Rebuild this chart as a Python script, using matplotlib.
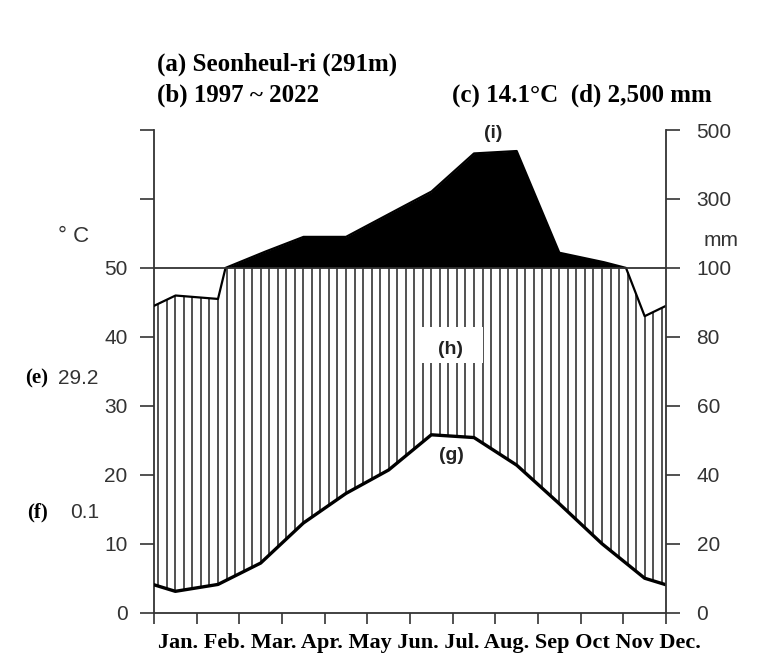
import matplotlib.pyplot as plt
import numpy as np
from matplotlib.patches import Rectangle

# monthly means
months = ["Jan.", "Feb.", "Mar.", "Apr.", "May", "Jun.", "Jul.", "Aug.", "Sep", "Oct", "Nov", "Dec."]
temp = [3.1, 4.1, 7.2, 13.0, 17.3, 20.7, 25.8, 25.4, 21.4, 15.8, 10.0, 5.0]   # deg C
prec = [92, 91, 142, 190, 190, 256, 321, 432, 439, 144, 118, 86]              # mm

left_ticks = [0, 10, 20, 30, 40, 50, 60, 70]
left_labels = ["0", "10", "20", "30", "40", "50", "", ""]
right_labels = ["0", "20", "40", "60", "80", "100", "300", "500"]

W, H = 764, 666
def fx(px):
    return px / W
def fy(py):
    return 1 - py / H

def squeeze(p):
    # walter-lieth scale: mm/2 up to 100 mm, then 1/20
    p = np.asarray(p, dtype=float)
    return np.where(p > 100, 50 + (p - 100) / 20.0, p / 2.0)

plt.rcParams['font.family'] = ['Liberation Sans', 'DejaVu Sans']
fig = plt.figure(figsize=(W / 100, H / 100), dpi=100)
ax = fig.add_axes([fx(154), fy(612.7), fx(666) - fx(154), fy(130) - fy(612.7)])

xm = np.arange(-0.5, 13)           # month midpoints, extended one each side
t_ext = np.array([temp[-1]] + temp + [temp[0]])
p_ext = np.array([prec[-1]] + prec + [prec[0]], dtype=float)

xd = np.linspace(0, 12, 2401)
pd_ = squeeze(np.interp(xd, xm, p_ext))

ax.fill_between(xd, 50, pd_, where=pd_ > 50, color='black', lw=0, zorder=2)
ax.plot(xd, pd_, color='black', lw=1.6, zorder=3)

# hatching between the curves
xi = 0.1 + 0.2 * np.arange(60)
ti = np.interp(xi, xm, t_ext)
pi = np.minimum(squeeze(np.interp(xi, xm, p_ext)), 50)
ok = pi > ti
ax.vlines(xi[ok], ti[ok], pi[ok], color='#333333', lw=1.2, zorder=1)

ax.plot(xm, t_ext, color='black', lw=2.4, zorder=4)
ax.axhline(50, color='#333333', lw=1.3, zorder=3)

ax.set_xlim(0, 12)
ax.set_ylim(0, 70)
ax.set_xticks(np.arange(13))
ax.set_xticklabels([])
ax.set_yticks(left_ticks)
ax.set_yticklabels(left_labels)
ax.tick_params(axis='x', direction='out', length=8, width=1.2, color='#333333')
ax.tick_params(axis='y', direction='out', length=10, width=1.2, color='#333333',
               labelsize=15, labelcolor='#333333', pad=9)
for s in ['top', 'right']:
    ax.spines[s].set_visible(False)
for s in ['left', 'bottom']:
    ax.spines[s].set_color('#333333')
    ax.spines[s].set_linewidth(1.3)

ax2 = ax.twinx()
ax2.set_ylim(0, 70)
ax2.set_yticks(left_ticks)
ax2.set_yticklabels(right_labels)
ax2.tick_params(axis='y', direction='out', length=10, width=1.2, color='#333333',
                labelsize=15, labelcolor='#333333', pad=12)
for s in ['top', 'left', 'bottom']:
    ax2.spines[s].set_visible(False)
ax2.spines['right'].set_color('#333333')
ax2.spines['right'].set_linewidth(1.3)

# white patch behind (h)
ax.add_patch(Rectangle((fx(420), fy(363)), fx(483) - fx(420), fy(327) - fy(363),
                       transform=fig.transFigure, facecolor='white', edgecolor='none', zorder=5))

serif = ['Liberation Serif', 'DejaVu Serif']
fig.text(fx(157), fy(64), "(a) Seonheul-ri (291m)", family=serif, weight='bold', fontsize=18, va='center')
fig.text(fx(157), fy(95), "(b) 1997 ~ 2022", family=serif, weight='bold', fontsize=18, va='center')
fig.text(fx(712), fy(95), "(c) 14.1°C  (d) 2,500 mm", family=serif, weight='bold', fontsize=18,
         va='center', ha='right')

fig.text(fx(25), fy(378), "(e)", family=serif, weight='bold', fontsize=15, va='center')
fig.text(fx(58), fy(378), "29.2", fontsize=15, color='#333333', va='center')
fig.text(fx(27), fy(512), "(f)", family=serif, weight='bold', fontsize=15, va='center')
fig.text(fx(70), fy(512), "0.1", fontsize=15, color='#333333', va='center')

fig.text(fx(74), fy(237), "° C", fontsize=16, color='#333333', ha='center', va='center')
fig.text(fx(721), fy(240), "mm", fontsize=15, color='#333333', ha='center', va='center')

ax.text(fx(493), fy(134), "(i)", transform=fig.transFigure, fontsize=14, weight='bold',
        color='#222222', ha='center', va='center', zorder=6)
ax.text(fx(450), fy(350), "(h)", transform=fig.transFigure, fontsize=14, weight='bold',
        color='#222222', ha='center', va='center', zorder=6)
ax.text(fx(451), fy(455), "(g)", transform=fig.transFigure, fontsize=14, weight='bold',
        color='#222222', ha='center', va='center', zorder=6)

fig.text(fx(158), fy(643), " ".join(months), family=serif, weight='bold', fontsize=16, va='center')

fig.savefig("out.png", dpi=100, facecolor='white')
